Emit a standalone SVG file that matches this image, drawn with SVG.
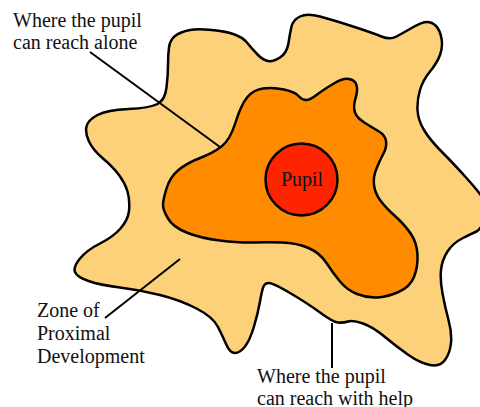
<svg xmlns="http://www.w3.org/2000/svg" width="480" height="407" viewBox="0 0 480 407">
<style>
.blob{stroke:#000;stroke-width:2.5;stroke-linejoin:round}
.lead{stroke:#000;stroke-width:2;fill:none}
.t{font-size:20px;fill:#111}
</style>
<rect width="480" height="407" fill="#fff"/>
<g id="zpd">
<path class="blob" fill="#FDD17A" d="M168,65 Q168,55 169,47.5 Q170,40 175,36 Q180,32 190,30 Q200,28 220,31 Q240,34 246.5,42 Q253,50 258,55 Q263,60 268,61 Q273,62 280,57.5 Q287,53 288.5,43 Q290,33 291.5,26.5 Q293,20 300,16.5 Q307,13 320,16.5 Q333,20 353,26.5 Q373,33 381.5,36.5 Q390,40 396.5,36.5 Q403,33 412.5,27.5 Q422,22 427,22 Q432,22 436,26 Q440,30 441.5,38.5 Q443,47 440,55 Q437,63 430,71.5 Q423,80 420,90 Q417,100 417.5,110 Q418,120 424,130 Q430,140 441.5,151.5 Q453,163 466.5,178 Q480,193 485,201.5 Q490,210 485,220 Q480,230 476.5,231.5 Q473,233 463,238 Q453,243 447.5,251.5 Q442,260 441,270 Q440,280 442.5,293.5 Q445,307 448.5,320 Q452,333 451,343 Q450,353 445,360 Q440,367 430,365 Q420,363 408.5,355 Q397,347 385,337 Q373,327 363,323.5 Q353,320 348,321.5 Q343,323 338,322.5 Q333,322 320,312.5 Q307,303 290,293 Q273,283 269,283 Q265,283 263.5,286.5 Q262,290 260,301.5 Q258,313 254,326.5 Q250,340 245,346.5 Q240,353 235,353 Q230,353 226.5,345 Q223,337 218,327 Q213,317 196.5,308.5 Q180,300 160,295 Q140,290 120,287.5 Q100,285 88.5,281 Q77,277 75,272 Q73,267 80,258.5 Q87,250 100,243.5 Q113,237 120.5,228.5 Q128,220 129,211 Q130,200 127.5,191.5 Q125,183 119,175 Q113,167 103,158.5 Q93,150 89,141.5 Q85,133 86.5,126.5 Q88,120 97.5,115 Q107,110 128.5,109 Q150,108 157.5,104 Q165,100 166.5,87.5 Q168,75 168,65 Z"/>
</g>
<g id="alone">
<path class="blob" fill="#FF8C00" d="M163,205 Q163,200 166.5,188.5 Q170,177 178.5,170 Q187,163 200,158 Q213,153 221.5,146.5 Q230,140 235.5,122.5 Q241,105 247,97.5 Q253,90 263,88.5 Q273,87 284,89.5 Q295,92 298.5,96 Q302,100 306,100 Q310,100 316.5,95 Q323,90 333,84 Q343,78 349,79 Q355,80 356.5,85 Q358,90 355.5,98.5 Q353,107 355,112.5 Q357,118 365,123 Q373,128 379,131.5 Q385,135 386,141 Q387,147 383.5,153.5 Q380,160 376.5,168.5 Q373,177 374,185 Q375,193 380,200 Q385,207 395,216 Q405,225 411,234 Q417,243 417.5,255 Q418,267 414,277 Q410,287 398.5,292 Q387,297 377,297.5 Q367,298 357,294 Q347,290 340,281.5 Q333,273 326.5,263 Q320,253 308.5,248 Q297,243 282,242.5 Q267,242 253.5,242.5 Q240,243 220,240.5 Q200,238 186.5,232.5 Q173,227 168,218.5 Q163,210 163,205 Z"/>
</g>
<g id="pupil">
<circle cx="301.5" cy="179.5" r="36" fill="#FF2400" stroke="#000" stroke-width="2.5"/>
<text class="t" font-family="Liberation Serif, Times New Roman, serif" x="302" y="186" text-anchor="middle">Pupil</text>
</g>
<g id="connectors">
<line class="lead" x1="90" y1="52" x2="220" y2="147"/>
<line class="lead" x1="105" y1="318" x2="180" y2="259"/>
<line class="lead" x1="332" y1="323" x2="332" y2="368" stroke-width="1.5"/>
</g>
<g id="labels" font-family="Liberation Serif, Times New Roman, serif">
<text class="t" x="13" y="27">Where the pupil</text>
<text class="t" x="13" y="49">can reach alone</text>
<text class="t" x="37" y="317">Zone of</text>
<text class="t" x="37" y="340">Proximal</text>
<text class="t" x="37" y="363">Development</text>
<text class="t" x="257" y="383">Where the pupil</text>
<text class="t" x="257" y="405">can reach with help</text>
</g>
</svg>
